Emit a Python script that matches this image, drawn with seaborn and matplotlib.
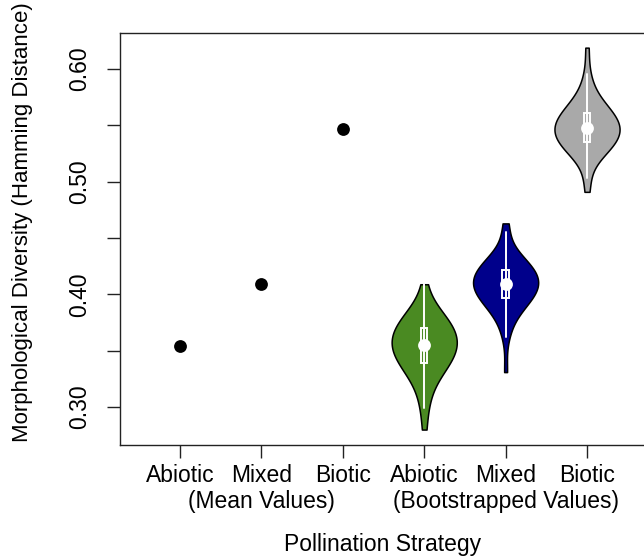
import numpy as np
import pandas as pd
import matplotlib
matplotlib.use("Agg")
import matplotlib.pyplot as plt
import matplotlib.transforms as mtransforms
from matplotlib.patches import Rectangle
import seaborn as sns

# Mean values (left group)
mean_pos = [1, 2, 3]
mean_vals = [0.354, 0.409, 0.547]

# Bootstrapped values (right group), estimated from the violin shapes
boot_abiotic = [0.280, 0.299, 0.3075, 0.3165, 0.3220, 0.3260, 0.3292, 0.3317,
                0.3342, 0.3365, 0.3383, 0.3401, 0.3419, 0.3437, 0.3452, 0.3466,
                0.3481, 0.3496, 0.3511, 0.3525, 0.3539, 0.3553, 0.3566, 0.3580,
                0.3594, 0.3608, 0.3622, 0.3636, 0.3651, 0.3665, 0.3680, 0.3697,
                0.3712, 0.3728, 0.3743, 0.3762, 0.3782, 0.3802, 0.3822, 0.3853,
                0.3886, 0.3938, 0.409]
boot_mixed = [0.331, 0.362, 0.3708, 0.3780, 0.3824, 0.3856, 0.3881, 0.3901,
              0.3921, 0.3940, 0.3954, 0.3968, 0.3983, 0.3997, 0.4009, 0.4020,
              0.4032, 0.4044, 0.4056, 0.4068, 0.4079, 0.4090, 0.4100, 0.4112,
              0.4123, 0.4134, 0.4145, 0.4156, 0.4168, 0.4180, 0.4192, 0.4205,
              0.4217, 0.4230, 0.4242, 0.4257, 0.4273, 0.4289, 0.4305, 0.4330,
              0.4356, 0.4398, 0.455, 0.463]
boot_biotic = [0.491, 0.503, 0.5172, 0.5214, 0.5240, 0.5265, 0.5281, 0.5297,
               0.5313, 0.5328, 0.5340, 0.5353, 0.5365, 0.5378, 0.5390, 0.5402,
               0.5414, 0.5425, 0.5436, 0.5447, 0.5458, 0.5470, 0.5480, 0.5491,
               0.5502, 0.5514, 0.5526, 0.5538, 0.5550, 0.5561, 0.5573, 0.5587,
               0.5602, 0.5616, 0.5630, 0.5649, 0.5669, 0.5689, 0.5714, 0.5746,
               0.5790, 0.5862, 0.596, 0.619]
boot_pos = [4, 5, 6]
groups = ["Abiotic", "Mixed", "Biotic"]
colors = ["#4A8A22", "#00008B", "#A9A9A9"]

tick_labels = ["Abiotic", "Mixed", "Biotic", "Abiotic", "Mixed", "Biotic"]
group_labels = ["(Mean Values)", "(Bootstrapped Values)"]
group_label_pos = [2, 5]
yticks = [0.30, 0.35, 0.40, 0.45, 0.50, 0.55, 0.60]
ytick_labels = ["0.30", "", "0.40", "", "0.50", "", "0.60"]

boot = [boot_abiotic, boot_mixed, boot_biotic]
df = pd.concat([pd.DataFrame({"pos": p, "group": g, "value": v})
                for p, g, v in zip(boot_pos, groups, boot)], ignore_index=True)
df_mean = pd.DataFrame({"pos": mean_pos, "value": mean_vals})

sns.set_style("ticks")
plt.rcParams["font.family"] = ["Liberation Sans", "DejaVu Sans"]
plt.rcParams["text.color"] = "black"
plt.rcParams["axes.labelcolor"] = "black"
plt.rcParams["xtick.color"] = "black"
plt.rcParams["ytick.color"] = "black"

fs = 16.5
fig = plt.figure(figsize=(6.44, 5.58), dpi=100)
ax = fig.add_axes([120 / 644, 113 / 558, 524 / 644, 412 / 558])

sns.violinplot(data=df, x="pos", y="value", hue="group", palette=colors,
               hue_order=groups, native_scale=True, dodge=False, cut=0,
               bw_adjust=1.1, density_norm="width", width=0.8, inner=None,
               saturation=1, linecolor="black", linewidth=1.1, legend=False,
               ax=ax)

# R-style inner boxplot in white
for p, v in zip(boot_pos, boot):
    v = np.array(v)
    q1, med, q3 = np.percentile(v, [25, 50, 75])
    iqr = q3 - q1
    lo = v[v >= q1 - 1.5 * iqr].min()
    hi = v[v <= q3 + 1.5 * iqr].max()
    ax.plot([p, p], [lo, hi], color="white", lw=1.4, zorder=5)
    ax.add_patch(Rectangle((p - 0.04, q1), 0.08, q3 - q1, facecolor="none",
                           edgecolor="white", lw=1.4, zorder=6))
    ax.scatter([p], [med], s=85, color="white", zorder=7, linewidths=0)

sns.scatterplot(data=df_mean, x="pos", y="value", color="black", s=85,
                linewidth=0, ax=ax, zorder=4)

ax.set_xlim(0.263, 6.70)
ax.set_ylim(0.2663, 0.632)
ax.set_xticks([1, 2, 3, 4, 5, 6])
ax.set_xticklabels(tick_labels, fontsize=fs)
ax.set_yticks(yticks)
ax.set_yticklabels(ytick_labels, fontsize=fs, rotation=90, va="center")
ax.tick_params(axis="both", length=9.5, width=1.0, color="#222222")
ax.tick_params(axis="x", pad=4.5)
ax.tick_params(axis="y", pad=11.5)
for s in ["left", "top", "bottom"]:
    ax.spines[s].set_linewidth(1.0)
    ax.spines[s].set_color("#222222")
ax.spines["right"].set_visible(False)

# second line of the x tick labels
trans = mtransforms.blended_transform_factory(ax.transData, ax.transAxes)
for xp, lab in zip(group_label_pos, group_labels):
    ax.text(xp, -0.153, lab, transform=trans, ha="center", va="baseline",
            fontsize=fs)

ax.set_xlabel("Pollination Strategy", fontsize=fs)
ax.set_ylabel("Morphological Diversity (Hamming Distance)", fontsize=16)
ax.xaxis.set_label_coords(0.502, -0.214)
ax.yaxis.set_label_coords(-0.166, 0.540)

fig.savefig("out.png", dpi=100)
